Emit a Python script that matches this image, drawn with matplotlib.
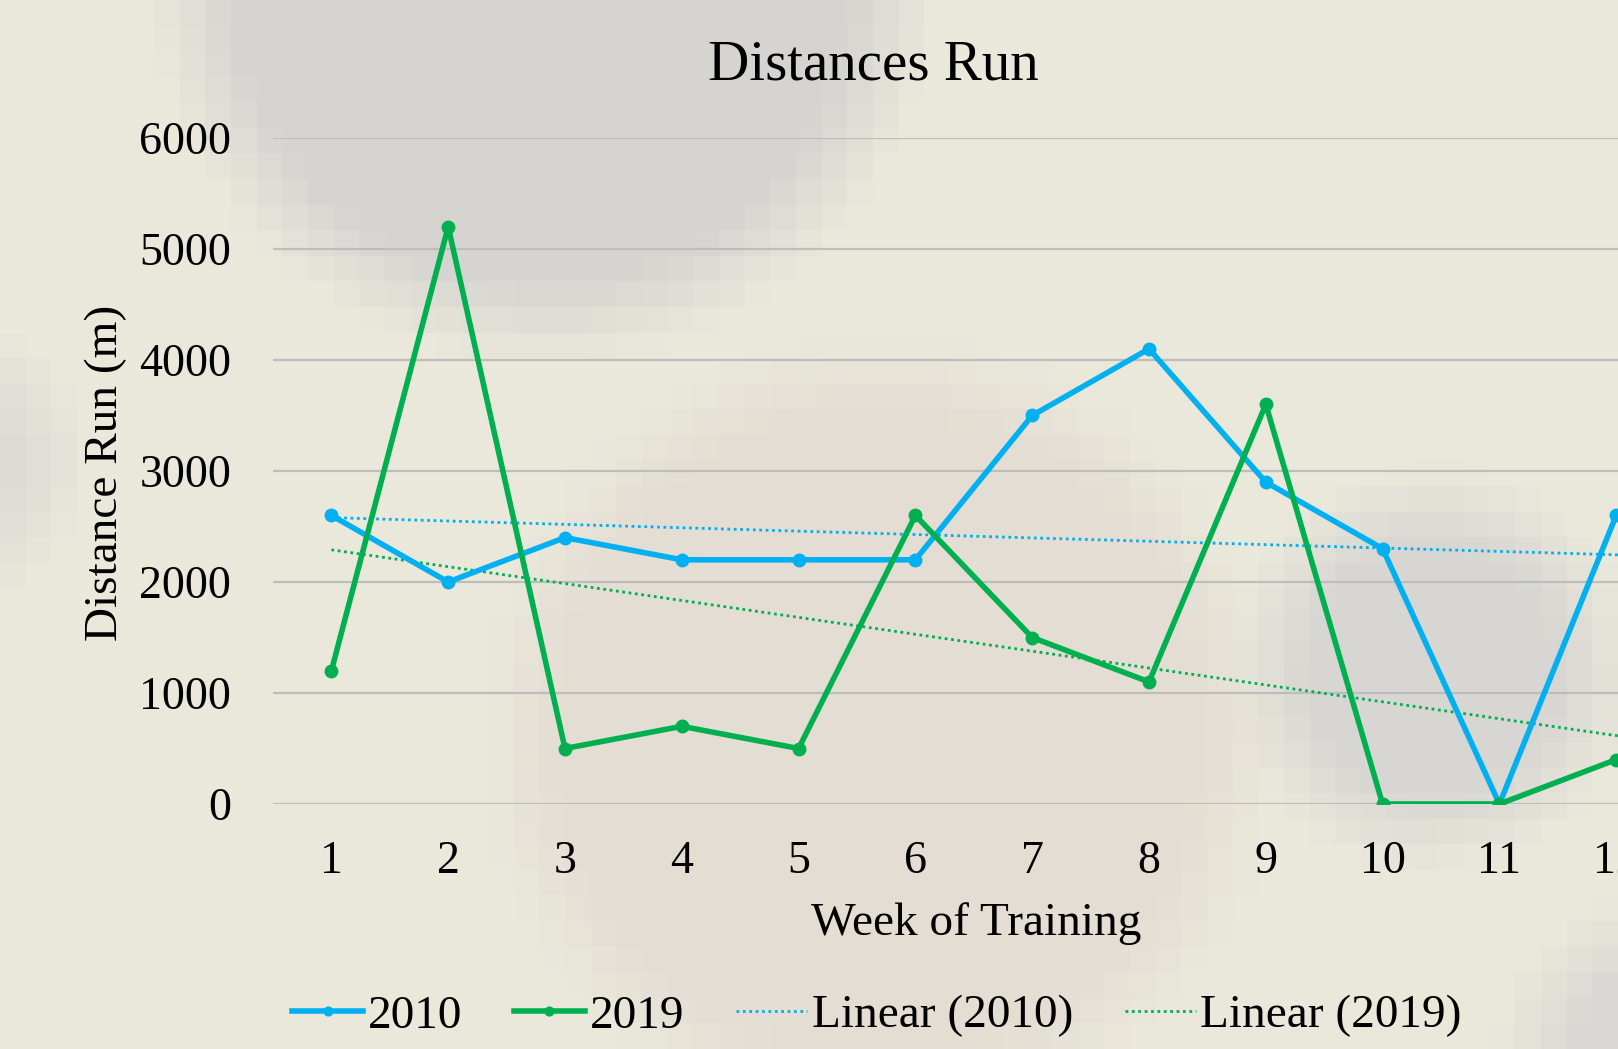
import matplotlib
matplotlib.use('Agg')
import matplotlib.pyplot as plt
import numpy as np

weeks = [1, 2, 3, 4, 5, 6, 7, 8, 9, 10, 11, 12]
dist_2010 = [2600, 2000, 2400, 2200, 2200, 2200, 3500, 4100, 2900, 2300, 0, 2600]
dist_2019 = [1200, 5200, 500, 700, 500, 2600, 1500, 1100, 3600, 0, 0, 400]

# trend lines (week, value)
trend_weeks = [1, 12.5]
trend_2010 = [2580, 2230]
trend_2019 = [2290, 540]

y_ticks = [0, 1000, 2000, 3000, 4000, 5000, 6000]

blue = '#00B0F0'
green = '#00B050'

plt.rcParams['font.family'] = ['Liberation Serif', 'DejaVu Serif']

W, H = 1618, 1049
fig = plt.figure(figsize=(W / 100, H / 100), dpi=100)

# pixelated, blurry background picture
bg = fig.add_axes([0, 0, 1, 1], zorder=-10)
bs = 26
gx, gy = np.meshgrid(np.arange(0, W, bs) + bs / 2, np.arange(0, H, bs) + bs / 2)
base = np.array([0.918, 0.910, 0.860])
img = np.ones(gx.shape + (3,)) * base
blobs = [
    ((550, -30), 358, np.array([0.840, 0.835, 0.820])),
    ((890, 745), 365, np.array([0.895, 0.870, 0.830])),
    ((1450, 680), 165, np.array([0.845, 0.840, 0.825])),
    ((-60, 470), 110, np.array([0.860, 0.855, 0.835])),
    ((1720, 1100), 170, np.array([0.850, 0.845, 0.830])),
]
for (cx, cy), r, col in blobs:
    d = np.hypot(gx - cx, gy - cy)
    w = np.clip((r + 40 - d) / 80, 0, 1)[..., None]
    img = img * (1 - w) + col * w
bg.imshow(img, extent=[0, W, H, 0], interpolation='nearest', aspect='auto')
bg.set_xlim(0, W)
bg.set_ylim(H, 0)
bg.axis('off')

ax = fig.add_axes([273 / W, 1 - 804 / H, 12 * 116.8 / W, (804 - 138) / H])
ax.patch.set_alpha(0)

ax.plot(trend_weeks, trend_2010, color=blue, lw=2, ls=(0, (1, 1.3)), label='Linear (2010)', zorder=3)
ax.plot(trend_weeks, trend_2019, color=green, lw=2, ls=(0, (1, 1.3)), label='Linear (2019)', zorder=3)
ax.plot(weeks, dist_2010, color=blue, lw=4, marker='o', ms=9, label='2010', zorder=4)
ax.plot(weeks, dist_2019, color=green, lw=4, marker='o', ms=9, label='2019', zorder=5)

ax.set_xlim(0.5, 12.5)
ax.set_ylim(0, 6000)
ax.set_yticks(y_ticks)
ax.set_xticks(weeks)
ax.yaxis.grid(True, color='#BDBDBD', lw=1.6)
ax.set_axisbelow(True)
for s in ax.spines.values():
    s.set_visible(False)
ax.tick_params(length=0, labelsize=33)
ax.tick_params(axis='y', pad=30)
ax.tick_params(axis='x', pad=26)

fig.text(873 / W, 1 - 65 / H, 'Distances Run', fontsize=41, ha='center', va='center')
fig.text(976 / W, 1 - 924 / H, 'Week of Training', fontsize=34, ha='center', va='center')
fig.text(106 / W, 1 - 473 / H, 'Distance Run (m)', fontsize=34, ha='center', va='center', rotation=90)

h, l = ax.get_legend_handles_labels()
order = [2, 3, 0, 1]
fig.legend([h[i] for i in order], [l[i] for i in order], loc='center', ncol=4,
           bbox_to_anchor=(877 / W, 1 - 1016 / H), frameon=False, fontsize=34,
           handlelength=1.5, handletextpad=0.1, columnspacing=1.1, markerscale=0.7)

fig.savefig('out.png', dpi=100)
